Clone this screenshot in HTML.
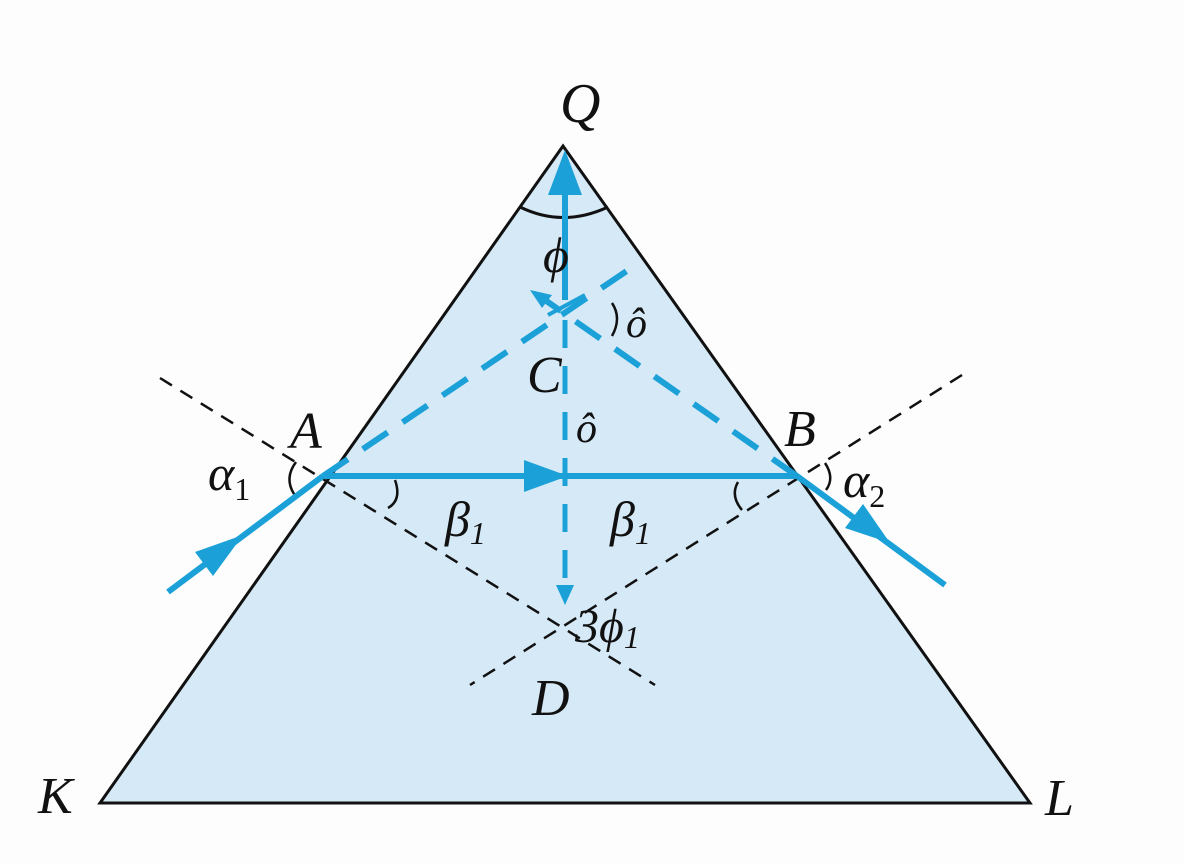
<!DOCTYPE html>
<html><head><meta charset="utf-8"><style>body{margin:0;background:#fff}svg{display:block}text{font-family:"Liberation Serif",serif;font-style:italic;fill:#111}</style></head><body>
<svg width="1184" height="864" viewBox="0 0 1184 864">
<rect width="1184" height="864" fill="#fdfdfd"/>
<polygon points="563,146 100,803 1030,803" fill="#d5e9f6" stroke="#111" stroke-width="3"/>
<g stroke="#111" stroke-width="2.5" stroke-dasharray="14,10" fill="none">
<line x1="160" y1="378" x2="655" y2="685"/>
<line x1="962" y1="375" x2="470" y2="685"/>
</g>
<path d="M520,207 Q563,228 608,207" stroke="#111" stroke-width="3" fill="none"/>
<g stroke="#1ba1d8" fill="none" stroke-width="6">
<line x1="168" y1="592" x2="323" y2="476"/>
<line x1="323" y1="476" x2="797" y2="476"/>
<line x1="797" y1="476" x2="945" y2="585"/>
<line x1="565" y1="300" x2="565" y2="190"/>
<line x1="323" y1="476" x2="640" y2="262" stroke-dasharray="30,18"/>
<line x1="797" y1="476" x2="545" y2="300" stroke-dasharray="30,18"/>
<line x1="565" y1="320" x2="565" y2="590" stroke-dasharray="28,18" stroke-width="5"/>
<line x1="548" y1="315" x2="585" y2="295" stroke-width="4"/>
</g>
<g fill="#1ba1d8">
<polygon points="565,150 548,195 582,195"/>
<polygon points="568,476 524,460 524,492"/>
<polygon points="243,535 213,576 195,552"/>
<polygon points="890,543 845,528 863,504"/>
<polygon points="565,605 556,585 574,585"/>
<polygon points="530,290 552,295 542,308"/>
</g>
<g stroke="#111" stroke-width="2.5" fill="none">
<path d="M296,462 Q284,478 294,494"/>
<path d="M395,480 Q402,500 388,508"/>
<path d="M738,482 Q730,496 742,510"/>
<path d="M825,463 Q835,478 826,490"/>
<path d="M612,303 Q622,318 612,336"/>
</g>
<text x="560" y="122" font-size="56">Q</text>
<text x="290" y="448" font-size="52">A</text>
<text x="784" y="446" font-size="52">B</text>
<text x="527" y="392" font-size="52">C</text>
<text x="532" y="715" font-size="52">D</text>
<text x="38" y="813" font-size="52">K</text>
<text x="1045" y="815" font-size="52">L</text>
<text x="208" y="490" font-size="50">α<tspan font-size="32" dy="10" font-style="normal">1</tspan></text>
<text x="843" y="497" font-size="50">α<tspan font-size="32" dy="10" font-style="normal">2</tspan></text>
<text x="445" y="536" font-size="50" font-style="normal">β<tspan font-size="32" dy="8">1</tspan></text>
<text x="610" y="536" font-size="50" font-style="normal">β<tspan font-size="32" dy="8">1</tspan></text>
<text x="543" y="272" font-size="50" font-style="normal">ϕ</text>
<text x="626" y="337" font-size="42" font-style="normal">ô</text>
<text x="576" y="442" font-size="42" font-style="normal">ô</text>
<text x="575" y="642" font-size="48" font-style="normal">3ϕ<tspan font-size="32" dy="6">1</tspan></text>
</svg>
</body></html>
